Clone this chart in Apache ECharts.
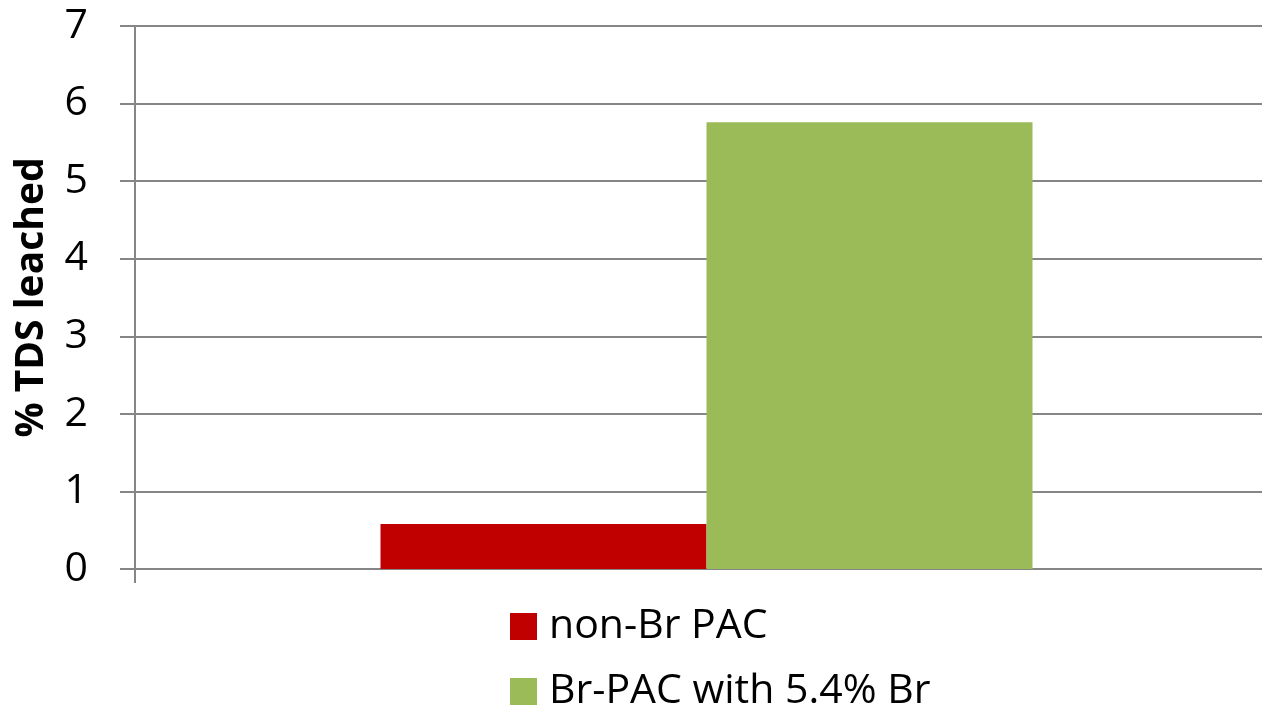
<!DOCTYPE html>
<html><head><meta charset="utf-8">
<script src="https://cdn.jsdelivr.net/npm/echarts@6/dist/echarts.min.js"></script>
<style>html,body{margin:0;padding:0;background:#fff}#c{width:1262px;height:708px}</style>
</head><body><div id="c"></div>
<script>
var categories = [''];
var seriesNames = ['non-Br PAC', 'Br-PAC with 5.4% Br'];
var nonBrPAC = [0.58];
var brPAC = [5.76];
var yTicks = [0, 1, 2, 3, 4, 5, 6, 7];
var colors = ['#C00000', '#9BBB59'];
var font = '"Open Sans", "Liberation Sans", sans-serif';

var legendText = {fontFamily: font, fontSize: 41, color: '#000', padding: [0,0,0,7]};
var chart = echarts.init(document.getElementById('c'));
chart.setOption({
  animation: false,
  grid: {left: 135, right: -16, top: 26, bottom: 139, containLabel: false, outerBoundsMode: 'none'},
  legend: [
    {left: 505, top: 601, itemWidth: 27, itemHeight: 27, icon: 'rect', textStyle: legendText, data: [seriesNames[0]]},
    {left: 505, top: 666, itemWidth: 27, itemHeight: 27, icon: 'rect', textStyle: legendText, data: [seriesNames[1]]}
  ],
  xAxis: {
    type: 'category', data: categories,
    axisLine: {show: false},
    axisTick: {show: false},
    axisLabel: {show: false}
  },
  yAxis: {
    type: 'value', min: yTicks[0], max: yTicks[yTicks.length-1], interval: 1,
    name: '% TDS leached', nameLocation: 'middle', nameGap: 84,
    nameTextStyle: {fontFamily: font, fontSize: 39, fontWeight: 'bold', color: '#000'},
    axisLine: {show: true, lineStyle: {color: '#868686', width: 2}},
    axisTick: {show: true, length: 15, lineStyle: {color: '#868686', width: 2}},
    axisLabel: {fontFamily: font, fontSize: 41, color: '#000', margin: 47},
    splitLine: {show: true, lineStyle: {color: '#868686', width: 2}}
  },
  series: [
    {name: seriesNames[0], type: 'bar', data: nonBrPAC, barWidth: 326, barGap: '0%', itemStyle: {color: colors[0]}},
    {name: seriesNames[1], type: 'bar', data: brPAC, barWidth: 326, barGap: '0%', itemStyle: {color: colors[1]}}
  ],
  graphic: [{
    type: 'line', shape: {x1: 135, y1: 569, x2: 135, y2: 583},
    style: {stroke: '#868686', lineWidth: 2}
  }]
});
</script></body></html>
